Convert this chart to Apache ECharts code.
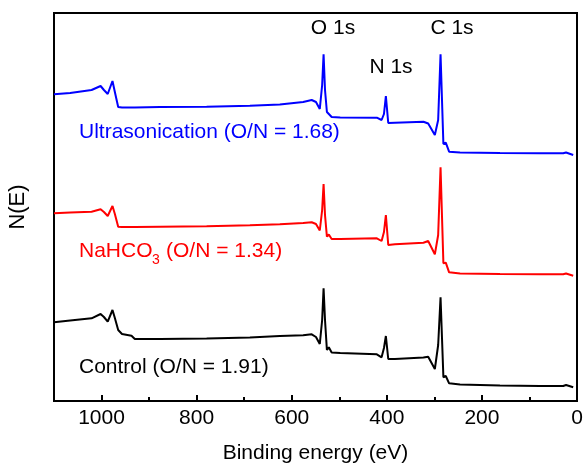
<!DOCTYPE html>
<html>
<head>
<meta charset="utf-8">
<script src="https://cdn.jsdelivr.net/npm/echarts@6/dist/echarts.min.js"></script>
<style>
  html, body { margin: 0; padding: 0; background: #fff; }
  #chart { width: 583px; height: 464px; }
</style>
</head>
<body>
<div id="chart"></div>
<script>
// binding energy (eV), shared by the three spectra
const energy = [1100, 1066, 1021, 1002, 995, 987, 977, 972, 965, 957, 937, 930, 877, 779, 688, 625,
  576, 558, 549, 541, 536, 533, 530, 526, 522, 516, 498, 421, 411, 406, 402, 397, 383, 323, 313,
  299, 292, 287, 281, 276, 269, 246, 162, 78, 29, 23, 8]

// N(E), offset spectra (arbitrary units)
const ultrasonication = [306.7, 308, 311, 315, 311, 307, 320, 309, 294, 293.5, 293.5, 293.5, 294, 294.3, 295.3, 296.5,
  299, 301, 299, 292, 316, 346.7, 311, 289, 290, 284, 283.5, 283.3, 281, 287, 305, 278, 278.3, 279.3, 277.5,
  266, 281, 346.7, 257, 258.3, 249.3, 248.5, 248, 247.7, 247.7, 248.5, 246]
const nahco3 = [187.7, 188.5, 189.3, 191.7, 189, 185, 195, 187, 174.3, 174, 174, 174, 174.3, 174.7, 175.7, 176.7,
  178, 178.7, 177, 170.5, 191, 217, 186, 164.3, 166.5, 162, 162, 162.7, 160, 169, 186, 156, 156.7, 158.3, 160,
  146.7, 166, 233.7, 137.7, 138.3, 128.7, 127.5, 127, 126.7, 126.7, 127.5, 125.3]
const control = [78.7, 80.5, 82.7, 87, 84, 79.3, 91, 83, 71, 67, 65.3, 62, 62, 62.5, 63.5, 65,
  65.7, 66.7, 64, 57, 81, 112.7, 81, 51, 53.7, 48.5, 48, 46.7, 43.7, 53, 65, 42, 42, 43.5, 44.3,
  32, 56, 103.7, 23.7, 25, 17.7, 16.5, 15.5, 15, 15, 16, 13.7]

const xTicks = { min: 0, max: 1100, interval: 200 }
const font = 'Liberation Sans, Arial, sans-serif'
const fs = 21

function pairs(ys) {
  return energy.map((e, i) => [e, ys[i]])
}

function line(name, ys, color) {
  return {
    name,
    type: 'line',
    data: pairs(ys),
    showSymbol: false,
    symbol: 'none',
    lineStyle: { color, width: 2 },
    z: 3
  }
}

function label(text, x, y, color, size, align) {
  return {
    type: 'text',
    x, y,
    style: {
      text,
      fill: color,
      font: (size || fs) + 'px ' + font,
      textAlign: align || 'left',
      textVerticalAlign: 'middle'
    },
    z: 10
  }
}

const chart = echarts.init(document.getElementById('chart'))
chart.setOption({
  animation: false,
  grid: {
    left: 54, right: 6, top: 13, bottom: 63,
    outerBoundsMode: 'none',
    containLabel: false,
    show: true, borderColor: '#000', borderWidth: 2, backgroundColor: 'transparent'
  },
  xAxis: {
    type: 'value',
    inverse: true,
    min: xTicks.min,
    max: xTicks.max,
    interval: xTicks.interval,
    name: 'Binding energy (eV)',
    nameLocation: 'middle',
    nameGap: 42,
    nameTextStyle: { color: '#000', fontSize: fs, fontFamily: font },
    axisLine: { show: true, lineStyle: { color: '#000', width: 2 } },
    axisTick: { show: true, inside: true, length: 6, lineStyle: { color: '#000', width: 2 } },
    minorTick: { show: true, splitNumber: 2, length: 4, lineStyle: { color: '#000', width: 2 } },
    axisLabel: {
      color: '#000', fontSize: fs, fontFamily: font, margin: 7,
      showMaxLabel: false,
      formatter: (v) => String(v)
    },
    splitLine: { show: false }
  },
  yAxis: {
    type: 'value',
    min: 0,
    max: 388,
    name: 'N(E)',
    nameLocation: 'middle',
    nameGap: 25,
    nameTextStyle: { color: '#000', fontSize: 22, fontFamily: font },
    axisLine: { show: false },
    axisTick: { show: false },
    axisLabel: { show: false },
    splitLine: { show: false }
  },
  series: [
    line('Ultrasonication', ultrasonication, '#0000ff'),
    line('NaHCO3', nahco3, '#ff0000'),
    line('Control', control, '#000000')
  ],
  graphic: [
    label('O 1s', 333, 28, '#000', fs, 'center'),
    label('N 1s', 391, 67, '#000', fs, 'center'),
    label('C 1s', 452, 28, '#000', fs, 'center'),
    label('Ultrasonication (O/N = 1.68)', 79, 132, '#0000ff'),
    label('NaHCO', 79, 251, '#ff0000'),
    label('3', 152, 260, '#ff0000', 14),
    label('(O/N = 1.34)', 166, 251, '#ff0000'),
    label('Control (O/N = 1.91)', 79, 367, '#000')
  ]
})
</script>
</body>
</html>
